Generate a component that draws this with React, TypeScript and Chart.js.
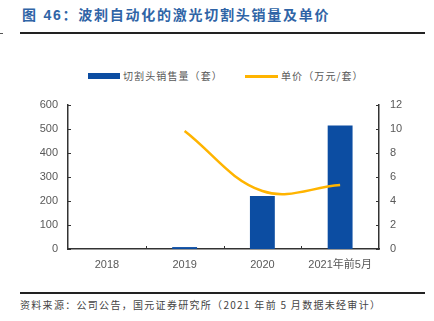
import React, { useEffect, useRef } from "react";
import { Chart, registerables } from "chart.js";

Chart.register(...registerables);

const categories = ["2018", "2019", "2020", "2021年前5月"];
const salesSets = [0, 8, 221, 515];
const unitPrice = [null, 9.83, 4.83, 5.33];
const leftTicks = [0, 100, 200, 300, 400, 500, 600];
const rightTicks = [0, 2, 4, 6, 8, 10, 12];

const BAR = "#0C4DA2";
const LINE = "#FFB400";
const AXIS = "#333333";
const TICKTXT = "#595959";

const innerTicks = {
  id: "innerTicks",
  afterDraw(chart: any) {
    const ctx = chart.ctx;
    const x = chart.scales.x;
    const y = chart.scales.y;
    const y1 = chart.scales.y1;
    const area = chart.chartArea;
    ctx.save();
    ctx.strokeStyle = AXIS;
    ctx.lineWidth = 1;
    ctx.beginPath();
    const n = categories.length;
    for (let i = 0; i < n - 1; i++) {
      const px = (x.getPixelForValue(i) + x.getPixelForValue(i + 1)) / 2;
      ctx.moveTo(Math.round(px) + 0.5, area.bottom);
      ctx.lineTo(Math.round(px) + 0.5, area.bottom - 3);
    }
    leftTicks.forEach((v) => {
      const py = Math.round(y.getPixelForValue(v)) + 0.5;
      ctx.moveTo(area.left, py);
      ctx.lineTo(area.left + 3, py);
    });
    rightTicks.forEach((v) => {
      const py = Math.round(y1.getPixelForValue(v)) + 0.5;
      ctx.moveTo(area.right, py);
      ctx.lineTo(area.right - 3, py);
    });
    ctx.stroke();
    ctx.restore();
  },
};

export default function App() {
  const ref = useRef<HTMLCanvasElement>(null);
  useEffect(() => {
    const chart = new Chart(ref.current as HTMLCanvasElement, {
      type: "bar",
      data: {
        labels: categories,
        datasets: [
          {
            type: "line",
            label: "单价（万元/套）",
            data: unitPrice,
            yAxisID: "y1",
            borderColor: LINE,
            backgroundColor: LINE,
            borderWidth: 2.5,
            pointRadius: 0,
            tension: 0.38,
            spanGaps: false,
            order: 0,
          } as any,
          {
            type: "bar",
            label: "切割头销售量（套）",
            data: salesSets,
            yAxisID: "y",
            backgroundColor: BAR,
            barPercentage: 0.32,
            categoryPercentage: 1,
            order: 1,
          },
        ],
      },
      options: {
        animation: false,
        responsive: false,
        maintainAspectRatio: false,
        layout: { padding: { top: 65, left: 0, right: 0, bottom: 0 } },
        plugins: { legend: { display: false }, tooltip: { enabled: false } },
        scales: {
          x: {
            grid: { display: false, drawTicks: false },
            border: { display: true, color: AXIS, width: 1.5 },
            ticks: {
              color: TICKTXT,
              padding: 9,
              font: { family: "'Liberation Sans', 'Noto Sans CJK SC', sans-serif", size: 11 },
              maxRotation: 0,
            },
            afterFit: (s: any) => {
              s.height = 31;
            },
          },
          y: {
            position: "left",
            min: 0,
            max: 600,
            grid: { display: false, drawTicks: false },
            border: { display: true, color: AXIS, width: 1.5 },
            ticks: {
              stepSize: 100,
              color: TICKTXT,
              padding: 10,
              font: { family: "'Liberation Sans', sans-serif", size: 11 },
            },
            afterFit: (s: any) => {
              s.width = 68;
            },
          },
          y1: {
            position: "right",
            min: 0,
            max: 12,
            grid: { display: false, drawTicks: false },
            border: { display: true, color: AXIS, width: 1.5 },
            ticks: {
              stepSize: 2,
              color: TICKTXT,
              padding: 11,
              font: { family: "'Liberation Sans', sans-serif", size: 11 },
            },
            afterFit: (s: any) => {
              s.width = 55;
            },
          },
        },
      },
      plugins: [innerTicks],
    });
    return () => chart.destroy();
  }, []);

  const cjk = "'Noto Sans CJK SC', 'Liberation Sans', sans-serif";
  return (
    <div style={{ position: "absolute", left: 0, top: 0, width: 434, height: 321, background: "#fff", overflow: "hidden" }}>
      <div
        style={{
          position: "absolute",
          left: 22,
          top: 5,
          fontFamily: "'Liberation Sans', 'Noto Sans CJK SC', sans-serif",
          fontWeight: "bold",
          fontSize: 14,
          letterSpacing: 1.75,
          color: "#2F64A6",
          whiteSpace: "nowrap",
          lineHeight: "20px",
        }}
      >
        图 46：波刺自动化的激光切割头销量及单价
      </div>
      <div style={{ position: "absolute", left: 20, top: 32, width: 405, height: 1.5, background: "#222" }} />
      <div style={{ position: "absolute", left: 0, top: 32.5, width: 3, height: 1, background: "#555" }} />
      <div style={{ position: "absolute", left: 88, top: 73, width: 32, height: 6, background: BAR }} />
      <div
        style={{ position: "absolute", left: 123, top: 68, fontFamily: cjk, fontSize: 10, letterSpacing: 1.1, color: TICKTXT, whiteSpace: "nowrap", lineHeight: "16px" }}
      >
        切割头销售量（套）
      </div>
      <div style={{ position: "absolute", left: 245, top: 75, width: 33, height: 2.5, background: LINE }} />
      <div
        style={{ position: "absolute", left: 281, top: 68, fontFamily: cjk, fontSize: 10, letterSpacing: 1.1, color: TICKTXT, whiteSpace: "nowrap", lineHeight: "16px" }}
      >
        单价（万元/套）
      </div>
      <canvas ref={ref} width={434} height={240} style={{ position: "absolute", left: 0, top: 40, width: 434, height: 240 }} />
      <div style={{ position: "absolute", left: 20, top: 292, width: 405, height: 1.5, background: "#222" }} />
      <div
        style={{ position: "absolute", left: 20, top: 297, fontFamily: cjk, fontSize: 10, letterSpacing: 1.3, color: "#444", whiteSpace: "nowrap", lineHeight: "16px" }}
      >
        资料来源：公司公告，国元证券研究所（2021 年前 5 月数据未经审计）
      </div>
    </div>
  );
}
